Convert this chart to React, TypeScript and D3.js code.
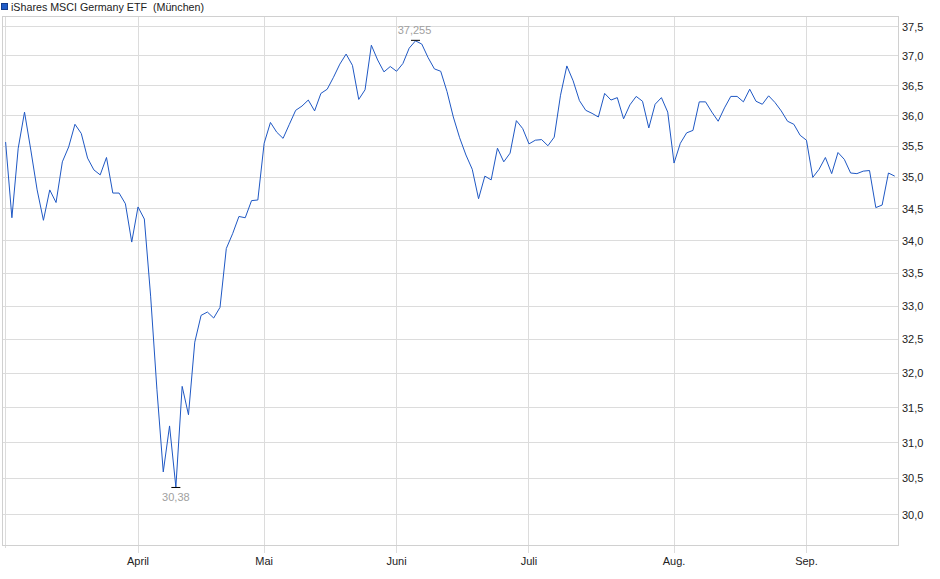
import React from "react";
import * as d3 from "d3";

const seriesName = "iShares MSCI Germany ETF  (München)";

// daily closing prices (trading-day index), March 3 – Sep 19
const prices: number[] = [
  35.57, 34.36, 35.47, 36.06, 35.44, 34.8, 34.32, 34.8, 34.6, 35.25,
  35.49, 35.86, 35.71, 35.31, 35.12, 35.04, 35.32, 34.75, 34.75, 34.58,
  33.98, 34.53, 34.34, 33.15, 31.76, 30.59, 31.24, 30.38, 31.81, 31.4,
  32.46, 32.86, 32.91, 32.82, 32.98, 33.88, 34.11, 34.38, 34.36, 34.63,
  34.64, 35.55, 35.89, 35.73, 35.63, 35.86, 36.09, 36.16, 36.26, 36.08,
  36.37, 36.44, 36.64, 36.86, 37.03, 36.84, 36.27, 36.43, 37.18, 36.93,
  36.73, 36.82, 36.74, 36.87, 37.13, 37.255, 37.2, 36.97, 36.78, 36.74,
  36.4, 35.98, 35.64, 35.36, 35.13, 34.66, 35.02, 34.96, 35.47, 35.25,
  35.39, 35.92, 35.79, 35.54, 35.6, 35.61, 35.51, 35.65, 36.34, 36.83,
  36.58, 36.25, 36.09, 36.04, 35.98, 36.37, 36.26, 36.3, 35.95, 36.18,
  36.32, 36.24, 35.8, 36.19, 36.3, 36.06, 35.23, 35.55, 35.72, 35.76,
  36.23, 36.23, 36.06, 35.91, 36.13, 36.32, 36.32, 36.23, 36.44, 36.24,
  36.19, 36.33, 36.22, 36.08, 35.91, 35.86, 35.68, 35.6, 35.0, 35.13,
  35.32, 35.06, 35.4, 35.29, 35.07, 35.06, 35.1, 35.11, 34.52, 34.56,
  35.07, 35.02,
];

// month starts (trading-day index) and their labels
const monthTickIndex: number[] = [0, 21, 41, 62, 83, 106, 127];
const monthTickLabels: string[] = ["", "April", "Mai", "Juni", "Juli", "Aug.", "Sep."];

// y axis tick values
const yTickValues: number[] = [30, 30.5, 31, 31.5, 32, 32.5, 33, 33.5, 34, 34.5, 35, 35.5, 36, 36.5, 37, 37.5];

const W = 940;
const H = 579;
const FONT = "'Liberation Sans', Arial, Helvetica, sans-serif";

export default function App() {
  const frame = { left: 3, right: 898, top: 16, bottom: 545 };
  const x = d3.scaleLinear().domain([0, prices.length - 1]).range([5.6, 5.6 + 6.306 * (prices.length - 1)]);
  const y = d3.scaleLog().domain([30, 37.5]).range([514.5, 26.5]);
  const fmt = d3.formatLocale({ decimal: ",", thousands: ".", grouping: [3], currency: ["", "€"] }).format(".1f");

  const line = d3
    .line<number>()
    .x((_, i) => x(i))
    .y((d) => y(d));

  const maxI = d3.maxIndex(prices);
  const minI = d3.minIndex(prices);
  const fmtExt = (v: number) => String(v).replace(".", ",");
  const crisp = (v: number) => Math.round(v) + 0.5;

  return (
    <svg
      width={W}
      height={H}
      viewBox={`0 0 ${W} ${H}`}
      style={{ position: "fixed", left: 0, top: 0, background: "#fff", fontFamily: FONT }}
    >
      {/* legend */}
      <rect x={1.5} y={3.5} width={6} height={6} fill="#1f5cc8" stroke="#143c8c" strokeWidth={1} />
      <text x={11} y={10.5} fontSize={10.7} fill="#222" style={{ whiteSpace: "pre" }}>
        {seriesName}
      </text>

      {/* horizontal grid */}
      {yTickValues.map((v) => (
        <line
          key={"h" + v}
          x1={frame.left}
          x2={frame.right}
          y1={crisp(y(v) - 0.5)}
          y2={crisp(y(v) - 0.5)}
          stroke="#dcdcdc"
          strokeWidth={1}
        />
      ))}

      {/* vertical grid + ticks */}
      {monthTickIndex.map((idx, k) => (
        <line
          key={"v" + idx}
          x1={crisp(x(idx) - 0.5)}
          x2={crisp(x(idx) - 0.5)}
          y1={frame.top}
          y2={k === 0 ? 548 : 553}
          stroke="#dcdcdc"
          strokeWidth={1}
        />
      ))}

      {/* frame */}
      <rect
        x={frame.left - 0.5}
        y={frame.top + 0.5}
        width={frame.right - frame.left + 1}
        height={frame.bottom - frame.top}
        fill="none"
        stroke="#d0d0d0"
        strokeWidth={1}
      />

      {/* y labels */}
      {yTickValues.map((v) => (
        <text key={"yl" + v} x={902} y={y(v) + 4} fontSize={11} fill="#222">
          {fmt(v)}
        </text>
      ))}

      {/* x labels */}
      {monthTickIndex.map((idx, k) =>
        monthTickLabels[k] ? (
          <text key={"xl" + idx} x={x(idx)} y={565} fontSize={11} fill="#222" textAnchor="middle">
            {monthTickLabels[k]}
          </text>
        ) : null
      )}

      {/* price line */}
      <path d={line(prices) || ""} fill="none" stroke="#1f58c4" strokeWidth={1} strokeLinejoin="round" />

      {/* max marker */}
      <line x1={x(maxI) - 4.5} x2={x(maxI) + 4.5} y1={y(prices[maxI]) - 0.5} y2={y(prices[maxI]) - 0.5} stroke="#000" strokeWidth={1} />
      <text x={x(maxI) - 1} y={y(prices[maxI]) - 6.5} fontSize={11} fill="#a0a0a0" textAnchor="middle">
        {fmtExt(prices[maxI])}
      </text>

      {/* min marker */}
      <line x1={x(minI) - 4.5} x2={x(minI) + 4.5} y1={y(prices[minI]) + 0.5} y2={y(prices[minI]) + 0.5} stroke="#000" strokeWidth={1} />
      <text x={x(minI)} y={y(prices[minI]) + 14.5} fontSize={11} fill="#a0a0a0" textAnchor="middle">
        {fmtExt(prices[minI])}
      </text>
    </svg>
  );
}
